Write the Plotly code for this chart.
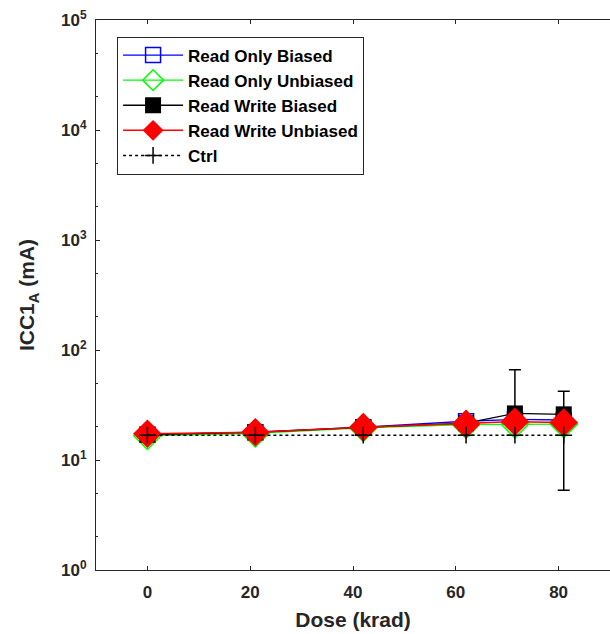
import plotly.graph_objects as go

# Dose steps (krad) and supply current ICC1_A (mA) per test condition
dose = [0, 21, 42, 62, 71.5, 81]

ro_biased = [17.0, 17.9, 19.9, 22.5, 23.4, 23.1]
ro_biased_err = [0.4, 0.4, 0.4, 0.5, 0.5, 0.5]

ro_unbiased = [16.6, 17.5, 19.6, 21.0, 21.1, 21.2]
ro_unbiased_err = [0.4, 0.4, 0.4, 0.5, 0.5, 0.5]

rw_biased = [17.0, 17.8, 19.8, 21.6, 26.5, 26.0]
rw_biased_up = [0.4, 0.4, 0.5, 0.5, 39.5, 16.2]
rw_biased_down = [0.4, 0.4, 0.5, 0.5, 0.5, 20.7]

rw_unbiased = [17.3, 17.9, 19.9, 21.3, 22.3, 21.9]
rw_unbiased_err = [0.4, 0.4, 0.4, 0.5, 0.5, 0.5]

ctrl = [16.8, 16.8, 16.8, 16.8, 16.8, 16.8]

x_ticks = [0, 20, 40, 60, 80]
y_ticks = [1, 10, 100, 1000, 10000, 100000]
y_tick_text = ["10<sup>0</sup>", "10<sup>1</sup>", "10<sup>2</sup>",
               "10<sup>3</sup>", "10<sup>4</sup>", "10<sup>5</sup>"]

FONT = "Liberation Sans, Arial, sans-serif"

fig = go.Figure()

fig.add_trace(go.Scatter(
    x=dose, y=ro_biased, name="Read Only Biased", mode="lines+markers",
    line=dict(color="#0000ff", width=1.3),
    marker=dict(symbol="square-open", size=15, color="#0000ff", line=dict(width=1.5)),
    error_y=dict(type="data", array=ro_biased_err, color="#0000ff", thickness=1.5, width=6),
))
fig.add_trace(go.Scatter(
    x=dose, y=ro_unbiased, name="Read Only Unbiased", mode="lines+markers",
    line=dict(color="#00ff00", width=1.3),
    marker=dict(symbol="diamond-open", size=21, color="#00ff00", line=dict(width=1.5)),
    error_y=dict(type="data", array=ro_unbiased_err, color="#00ff00", thickness=1.5, width=6),
))
fig.add_trace(go.Scatter(
    x=dose, y=rw_biased, name="Read Write Biased", mode="lines+markers",
    line=dict(color="#000000", width=1.3),
    marker=dict(symbol="square", size=16, color="#000000"),
    error_y=dict(type="data", symmetric=False, array=rw_biased_up,
                 arrayminus=rw_biased_down, color="#000000", thickness=1.5, width=6),
))
fig.add_trace(go.Scatter(
    x=dose, y=rw_unbiased, name="Read Write Unbiased", mode="lines+markers",
    line=dict(color="#ff0000", width=1.5),
    marker=dict(symbol="diamond", size=22, color="#ff0000"),
    error_y=dict(type="data", array=rw_unbiased_err, color="#ff0000", thickness=1.5, width=6),
))
fig.add_trace(go.Scatter(
    x=dose, y=ctrl, name="Ctrl", mode="lines+markers",
    line=dict(color="#000000", width=1.5, dash="dot"),
    marker=dict(symbol="cross-thin", size=12, color="#000000", line=dict(width=1.5, color="#000000")),
))

axis_font = dict(family=FONT, size=17, color="#262626", weight="bold")
title_font = dict(family=FONT, size=21, color="#262626", weight="bold")

fig.update_layout(
    width=610, height=634,
    margin=dict(l=96, r=0, t=20, b=64),
    paper_bgcolor="white", plot_bgcolor="white",
    showlegend=True,
    legend=dict(
        x=0.041, y=0.97, xanchor="left", yanchor="top",
        bgcolor="white", bordercolor="#262626", borderwidth=1,
        font=dict(family=FONT, size=17, color="#000000", weight="bold"),
        tracegroupgap=0, itemwidth=60,
    ),
    xaxis=dict(
        range=[-10, 90], tickvals=x_ticks, ticks="inside", ticklen=4,
        tickcolor="#262626", showline=True, linecolor="#262626", linewidth=1,
        showgrid=False, zeroline=False, tickfont=axis_font, ticklabelstandoff=7,
        title=dict(text="Dose (krad)", font=title_font, standoff=10),
    ),
    xaxis2=dict(
        overlaying="x", side="top", matches="x", tickvals=x_ticks, ticks="inside",
        ticklen=4, tickcolor="#262626", showline=True, linecolor="#262626",
        linewidth=1, showgrid=False, zeroline=False, showticklabels=False,
    ),
    yaxis=dict(
        type="log", range=[0, 5], tickvals=y_ticks, ticktext=y_tick_text,
        ticks="inside", ticklen=4, tickcolor="#262626",
        minor=dict(ticks="inside", ticklen=2, tickcolor="#262626", showgrid=False),
        showline=True, linecolor="#262626", linewidth=1, showgrid=False,
        zeroline=False, tickfont=axis_font, ticklabelstandoff=5,
        title=dict(text="ICC1<sub>A</sub> (mA)", font=title_font, standoff=20),
    ),
)

# invisible trace so the top axis is rendered
fig.add_trace(go.Scatter(x=[0], y=[None], xaxis="x2", showlegend=False, hoverinfo="skip"))

for i, tr in enumerate(fig.data[:5]):
    tr.legendgroup = f"g{i}"

fig.write_html("out.html")
